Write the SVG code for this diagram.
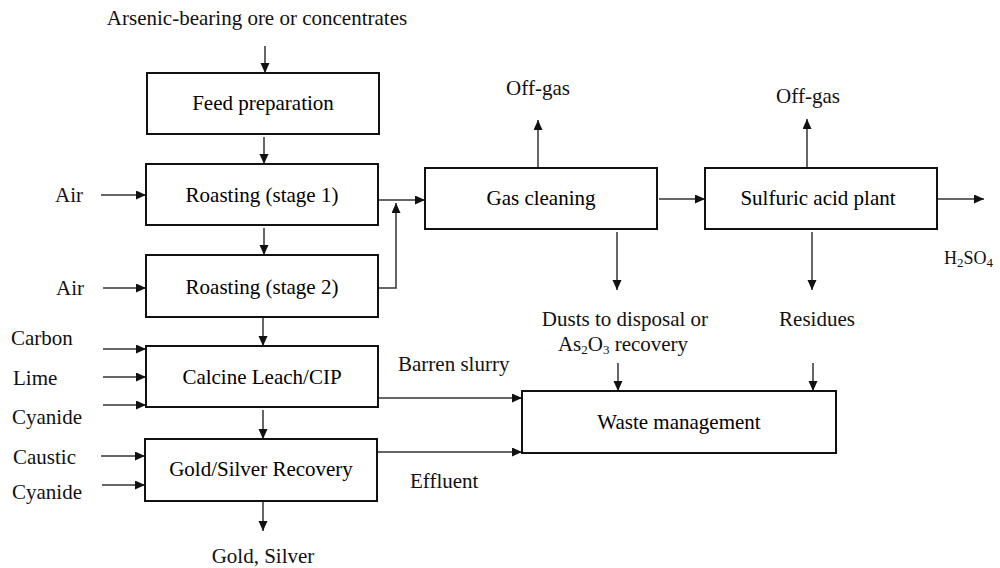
<svg xmlns="http://www.w3.org/2000/svg" width="1000" height="568" viewBox="0 0 1000 568" font-family="'Liberation Serif', 'DejaVu Serif', serif" font-size="21">
  <style>
    .c { text-anchor: middle; }
    .box { fill: #fff; stroke: #111; stroke-width: 2; }
    .ln { fill: none; stroke: #333; stroke-width: 1.5; }
    .sub { font-size: 13px; }
  </style>
  <defs>
    <marker id="ah" markerUnits="userSpaceOnUse" markerWidth="11" markerHeight="10" refX="10" refY="4.5" orient="auto">
      <path d="M0,0 L10,4.5 L0,9 z" fill="#111"/>
    </marker>
  </defs>
  <rect width="1000" height="568" fill="#fff"/>

  <!-- connectors -->
  <g id="connectors" class="ln" marker-end="url(#ah)">
    <line x1="265" y1="46" x2="265" y2="73"/>
    <line x1="264" y1="137" x2="264" y2="164"/>
    <line x1="264" y1="228" x2="264" y2="255"/>
    <line x1="263" y1="318" x2="263" y2="346"/>
    <line x1="263" y1="410" x2="263" y2="439"/>
    <line x1="263" y1="502" x2="263" y2="531"/>
    <line x1="101" y1="195" x2="146" y2="195"/>
    <line x1="103" y1="288" x2="146" y2="288"/>
    <line x1="379" y1="200" x2="425" y2="200"/>
    <polyline points="378,288 396,288 396,203"/>
    <line x1="538" y1="168" x2="538" y2="120"/>
    <line x1="659" y1="199" x2="705" y2="199"/>
    <line x1="807" y1="168" x2="807" y2="119"/>
    <line x1="938" y1="199" x2="984" y2="199"/>
    <line x1="617" y1="232" x2="617" y2="290"/>
    <line x1="812" y1="232" x2="812" y2="290"/>
    <line x1="618" y1="363" x2="618" y2="391"/>
    <line x1="813" y1="363" x2="813" y2="391"/>
    <line x1="379" y1="398" x2="522" y2="398"/>
    <line x1="378" y1="452" x2="522" y2="452"/>
    <line x1="103" y1="349" x2="146" y2="349"/>
    <line x1="103" y1="377" x2="146" y2="377"/>
    <line x1="103" y1="405" x2="146" y2="405"/>
    <line x1="101" y1="456" x2="145" y2="456"/>
    <line x1="102" y1="485" x2="145" y2="485"/>
  </g>

  <!-- process units -->
  <g id="feed-preparation">
    <rect class="box" x="147" y="73" width="232" height="61"/>
    <text class="c" x="263" y="110">Feed preparation</text>
  </g>
  <g id="roasting-1">
    <rect class="box" x="146" y="164" width="232" height="61"/>
    <text class="c" x="262" y="202">Roasting (stage 1)</text>
  </g>
  <g id="roasting-2">
    <rect class="box" x="146" y="255" width="232" height="62"/>
    <text class="c" x="262" y="294">Roasting (stage 2)</text>
  </g>
  <g id="calcine-leach">
    <rect class="box" x="146" y="346" width="232" height="61"/>
    <text class="c" x="262" y="384">Calcine Leach/CIP</text>
  </g>
  <g id="gold-silver-recovery">
    <rect class="box" x="145" y="439" width="232" height="62"/>
    <text class="c" x="261" y="476">Gold/Silver Recovery</text>
  </g>
  <g id="gas-cleaning">
    <rect class="box" x="425" y="168" width="232" height="61"/>
    <text class="c" x="541" y="205">Gas cleaning</text>
  </g>
  <g id="sulfuric-acid-plant">
    <rect class="box" x="705" y="168" width="232" height="61"/>
    <text class="c" x="818" y="205">Sulfuric acid plant</text>
  </g>
  <g id="waste-management">
    <rect class="box" x="522" y="391" width="314" height="62"/>
    <text class="c" x="679" y="429">Waste management</text>
  </g>

  <!-- stream labels -->
  <g id="labels" fill="#111">
    <text class="c" x="257" y="25">Arsenic-bearing ore or concentrates</text>
    <text x="55" y="202">Air</text>
    <text x="56" y="295">Air</text>
    <text class="c" x="538" y="95">Off-gas</text>
    <text class="c" x="808" y="103">Off-gas</text>
    <text x="944" y="264" font-size="18">H<tspan class="sub" font-size="12" dy="3">2</tspan><tspan dy="-3">SO</tspan><tspan class="sub" font-size="12" dy="3">4</tspan></text>
    <text class="c" x="625" y="326">Dusts to disposal or</text>
    <text class="c" x="623" y="351">As<tspan class="sub" dy="3">2</tspan><tspan dy="-3">O</tspan><tspan class="sub" dy="3">3</tspan><tspan dy="-3"> recovery</tspan></text>
    <text class="c" x="817" y="326">Residues</text>
    <text x="398" y="371">Barren slurry</text>
    <text x="410" y="488">Effluent</text>
    <text x="11" y="345">Carbon</text>
    <text x="13" y="385">Lime</text>
    <text x="12" y="424">Cyanide</text>
    <text x="13" y="464">Caustic</text>
    <text x="12" y="499">Cyanide</text>
    <text class="c" x="263" y="563">Gold, Silver</text>
  </g>
</svg>
